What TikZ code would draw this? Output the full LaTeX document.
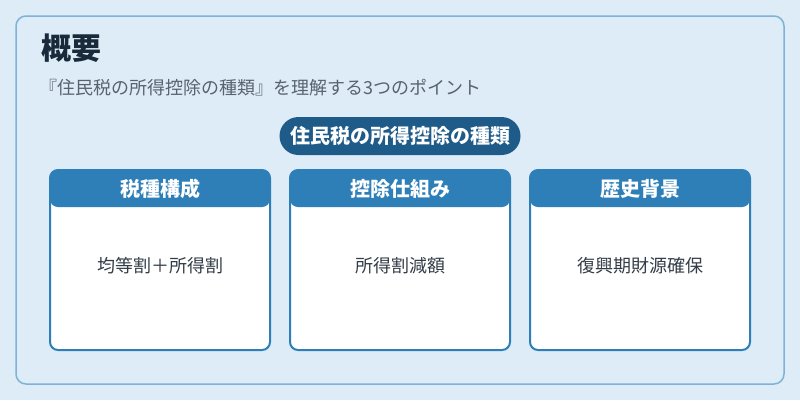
\documentclass[tikz,border=0pt]{standalone}
\usepackage{fontspec}
\setmainfont{Noto Sans CJK JP}
\usetikzlibrary{positioning}
\definecolor{bgblue}{HTML}{DDECF7}
\definecolor{edgeblue}{HTML}{7FB3D6}
\definecolor{pillblue}{HTML}{1F5B89}
\definecolor{headblue}{HTML}{2E7FB8}
\definecolor{titleink}{HTML}{1B2A3A}
\definecolor{subink}{HTML}{58636E}
\definecolor{bodyink}{HTML}{333D47}

\begin{document}
\begin{tikzpicture}[x=1pt,y=-1pt,
    card/.style={draw=headblue, line width=2pt, fill=white, rounded corners=8pt,
      minimum width=220pt, minimum height=180pt, inner sep=0pt, outer sep=0pt,
      path picture={\fill[headblue] (path picture bounding box.north west)
        rectangle ([yshift=-37pt]path picture bounding box.north east);}},
    headtext/.style={text=white, font=\fontsize{20}{22}\selectfont\bfseries},
    bodytext/.style={text=bodyink, font=\fontsize{18}{20}\selectfont}]
    % Background and outer frame
    \fill[bgblue] (0,0) rectangle (800,400);
    \useasboundingbox (0,0) rectangle (800,400);
    \draw[edgeblue, line width=1.5pt, rounded corners=10pt] (16,16) rectangle (784,384);
    % Title and subtitle
    \node[anchor=west, inner sep=0pt, text=titleink, font=\fontsize{30}{32}\selectfont\bfseries]
    (title) at (41,48) {概要};
    \node[anchor=west, inner sep=0pt, text=subink, font=\fontsize{18}{20}\selectfont]
    (subtitle) at (39,88) {『住民税の所得控除の種類』を理解する3つのポイント};
    % Topic pill
    \node[fill=pillblue, text=white, rounded corners=19pt, minimum width=241pt,
      minimum height=38pt, font=\fontsize{20}{22}\selectfont\bfseries]
    (topic) at (400,136) {住民税の所得控除の種類};
    % The three cards
    \node[card] (tax) at (160,260) {};
    \node[card, right=20pt of tax] (ded) {};
    \node[card, right=20pt of ded] (hist) {};
    % Card headers
    \node[headtext] (taxhead) at ([yshift=-18.5pt]tax.north) {税種構成};
    \node[headtext] (dedhead) at ([yshift=-18.5pt]ded.north) {控除仕組み};
    \node[headtext] (histhead) at ([yshift=-18.5pt]hist.north) {歴史背景};
    % Card bodies
    \node[bodytext] (taxbody) at ([yshift=-6pt]tax.center) {均等割＋所得割};
    \node[bodytext] (dedbody) at ([yshift=-6pt]ded.center) {所得割減額};
    \node[bodytext] (histbody) at ([yshift=-6pt]hist.center) {復興期財源確保};
\end{tikzpicture}
\end{document}
